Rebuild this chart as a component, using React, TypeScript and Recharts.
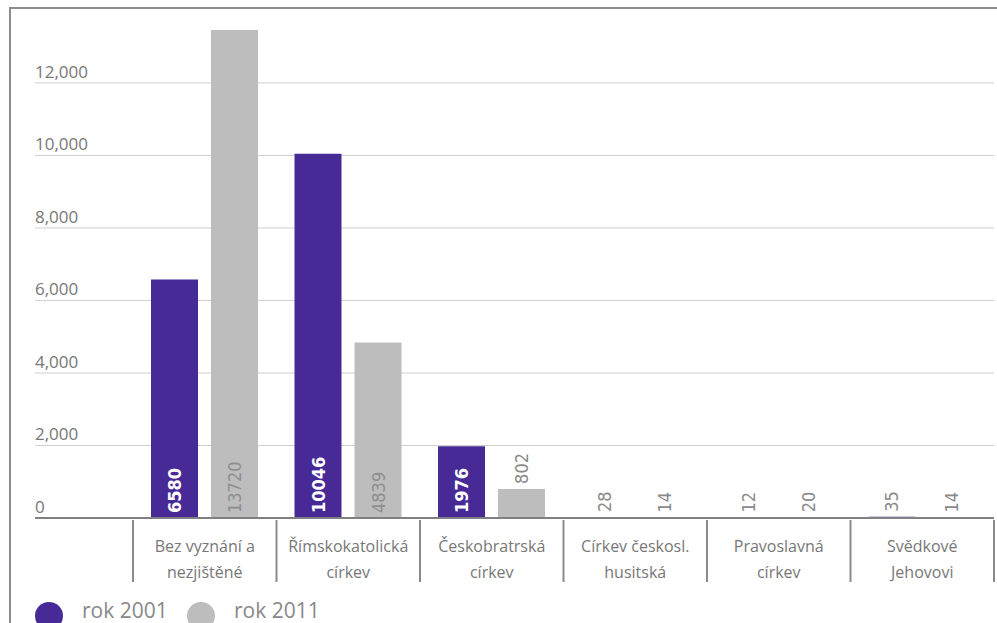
import React from "react";
import { BarChart, Bar, XAxis, YAxis, CartesianGrid, LabelList } from "recharts";

const categories = [
  ["Bez vyznání a", "nezjištěné"],
  ["Římskokatolická", "církev"],
  ["Českobratrská", "církev"],
  ["Církev českosl.", "husitská"],
  ["Pravoslavná", "církev"],
  ["Svědkové", "Jehovovi"],
];
const values2001 = [6580, 10046, 1976, 28, 12, 35];
const values2011 = [13720, 4839, 802, 14, 20, 14];
const seriesNames = ["rok 2001", "rok 2011"];
const seriesColors = ["#472a96", "#bdbdbd"];
const yTicks = [0, 2000, 4000, 6000, 8000, 10000, 12000];

const W = 997;
const H = 623;
const M = { top: 30, right: 3, left: 0, bottom: 35 };
const Y_W = 133;
const X_H = 70;
const band = (W - M.left - M.right - Y_W) / categories.length;
const axisY = H - M.bottom - X_H;

const data = categories.map((c, i) => ({
  name: c.join(" "),
  lines: c,
  y2001: values2001[i],
  y2011: values2011[i],
}));

const font = "'Open Sans', 'DejaVu Sans', sans-serif";
const narrow = "'DejaVu Sans Condensed', 'DejaVu Sans', sans-serif";

function YTick(props: any) {
  const { y, payload } = props;
  const zero = payload.value === 0;
  return (
    <g>
      <line x1={35} x2={M.left + Y_W} y1={y} y2={y} stroke={zero ? "#808080" : "#cfcfcf"} strokeWidth={zero ? 2 : 1} />
      <text x={35} y={y - 5} fill="#777" fontSize={17} fontFamily={font}>
        {payload.value.toLocaleString("en-US")}
      </text>
    </g>
  );
}

function XTick(props: any) {
  const { x, payload, index } = props;
  const lines = data[index]?.lines ?? [payload.value];
  const left = x - band / 2;
  return (
    <g>
      <line x1={left} x2={left} y1={axisY + 2} y2={axisY + 64} stroke="#8a8a8a" strokeWidth={2} />
      {index === categories.length - 1 && (
        <line x1={x + band / 2} x2={x + band / 2} y1={axisY + 2} y2={axisY + 64} stroke="#8a8a8a" strokeWidth={2} />
      )}
      {lines.map((l: string, i: number) => (
        <text key={i} x={x} y={axisY + 34 + i * 26} textAnchor="middle" fill="#777" fontSize={16} fontFamily={font}>
          {l}
        </text>
      ))}
    </g>
  );
}

function makeLabel(series: number) {
  return function ValueLabel(props: any) {
    const { x, y, width, height, value } = props;
    const cx = x + width / 2;
    const inside = height > 50;
    const ty = inside ? y + height - 5 : y - 5;
    const fill = inside ? (series === 0 ? "#ffffff" : "#8e8e8e") : "#8a8a8a";
    return (
      <text
        x={cx}
        y={ty}
        transform={`rotate(-90 ${cx} ${ty})`}
        dominantBaseline="central"
        fill={fill}
        fontSize={18}
        fontWeight={inside && series === 0 ? 700 : 400}
        fontFamily={narrow}
        style={{ fontStretch: "condensed" }}
      >
        {value}
      </text>
    );
  };
}

export default function App() {
  return (
    <div style={{ position: "absolute", left: 0, top: 0, width: W, height: H, overflow: "hidden", background: "#fff" }}>
      <div
        style={{
          position: "absolute",
          left: 9,
          top: 7,
          width: W,
          height: H,
          borderTop: "2px solid #8c8c8c",
          borderLeft: "2px solid #8c8c8c",
        }}
      />
      <div style={{ position: "absolute", left: 0, top: 0 }}>
        <BarChart width={W} height={H} data={data} margin={M} barGap={13} barSize={47}>
          <CartesianGrid vertical={false} stroke="#cfcfcf" horizontalValues={yTicks} />
          <YAxis
            width={Y_W}
            domain={[0, 13460]}
            allowDataOverflow
            ticks={yTicks}
            axisLine={false}
            tickLine={false}
            tick={<YTick />}
          />
          <XAxis
            dataKey="name"
            height={X_H}
            interval={0}
            tickLine={false}
            axisLine={{ stroke: "#808080", strokeWidth: 2 }}
            tick={<XTick />}
          />
          <Bar dataKey="y2001" fill={seriesColors[0]} isAnimationActive={false}>
            <LabelList dataKey="y2001" content={makeLabel(0)} />
          </Bar>
          <Bar dataKey="y2011" fill={seriesColors[1]} isAnimationActive={false}>
            <LabelList dataKey="y2011" content={makeLabel(1)} />
          </Bar>
        </BarChart>
      </div>
      <svg style={{ position: "absolute", left: 0, top: 590 }} width={400} height={33}>
        {seriesNames.map((n, i) => (
          <g key={n}>
            <circle cx={49 + i * 152} cy={26} r={14} fill={seriesColors[i]} />
            <text x={82 + i * 152} y={28} fill="#888" fontSize={21} fontFamily={font}>
              {n}
            </text>
          </g>
        ))}
      </svg>
    </div>
  );
}
